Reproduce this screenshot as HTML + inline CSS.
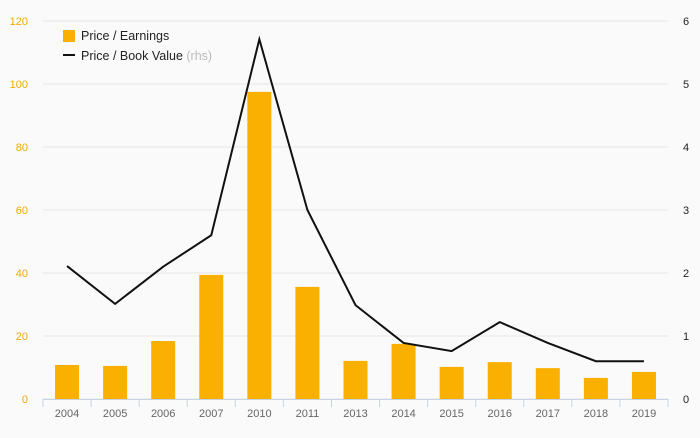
<!DOCTYPE html>
<html><head><meta charset="utf-8"><style>
body{margin:0;background:#fafafa;font-family:"Liberation Sans",sans-serif}
svg text{font-family:"Liberation Sans",sans-serif}
</style></head><body>
<svg id="c" width="700" height="433"></svg>
<script>
const categories=["2004","2005","2006","2007","2010","2011","2013","2014","2015","2016","2017","2018","2019"];
const peValues=[10.8,10.5,18.4,39.4,97.5,35.6,12.1,17.5,10.2,11.7,9.8,6.7,8.6];
const pbValues=[2.11,1.51,2.1,2.6,5.71,3.0,1.49,0.89,0.76,1.22,0.89,0.6,0.6];
const leftTicks=[0,20,40,60,80,100,120];
const rightTicks=[0,1,2,3,4,5,6];
const NS="http://www.w3.org/2000/svg";
const svg=document.getElementById('c');
const x0=43,x1=668,y0=399,y1=21;
const bw=(x1-x0)/categories.length;
const xc=i=>x0+bw*(i+0.5);
const yL=v=>y0-(v/120)*(y0-y1);
const yR=v=>y0-(v/6)*(y0-y1);
function mk(t,a,p){const e=document.createElementNS(NS,t);for(const k in a)e.setAttribute(k,a[k]);(p||svg).appendChild(e);return e;}
leftTicks.forEach(v=>{
 const g=mk('line',{x1:x0,x2:x1,y1:yL(v),y2:yL(v),stroke:'#e6e6e6','stroke-width':1});
 
 
 const t=mk('text',{x:28,y:yL(v)+4,'text-anchor':'end','font-size':11,fill:'#f5a800'});t.textContent=v;
 
 
});
rightTicks.forEach(v=>{
 const t=mk('text',{x:686,y:yR(v)+4,'text-anchor':'middle','font-size':11,fill:'#222'});t.textContent=v;
 
 
});
peValues.forEach((v,i)=>{
 const r=mk('rect',{x:xc(i)-12,y:yL(v),width:24,height:y0-yL(v),fill:'#f9b000'});
 
 
});
const ax=mk('line',{x1:x0,x2:x1,y1:y0+0.5,y2:y0+0.5,stroke:'#c8d2e6'});


for(let i=0;i<=categories.length;i++){
 const tk=mk('line',{x1:x0+bw*i,x2:x0+bw*i,y1:y0,y2:y0+8,stroke:'#c8d2e6'});
 
 
}
categories.forEach((c,i)=>{
 const t=mk('text',{x:xc(i),y:417,'text-anchor':'middle','font-size':11,fill:'#666'});t.textContent=c;
 
 
});
const pl=mk('polyline',{points:pbValues.map((v,i)=>xc(i)+','+yR(v)).join(' '),fill:'none',stroke:'#111','stroke-width':2});


const lg=mk('g',{});


mk('rect',{x:63,y:30,width:12,height:12,fill:'#f9b000'},lg);
const t1=mk('text',{x:81,y:40,'font-size':12.5,fill:'#222'},lg);t1.textContent='Price / Earnings';


mk('line',{x1:63,x2:75,y1:55,y2:55,stroke:'#111','stroke-width':2},lg);
const t2=mk('text',{x:81,y:60,'font-size':12.5,fill:'#222'},lg);t2.innerHTML='Price / Book Value <tspan fill="#bbb">(rhs)</tspan>';


</script>
</body></html>
